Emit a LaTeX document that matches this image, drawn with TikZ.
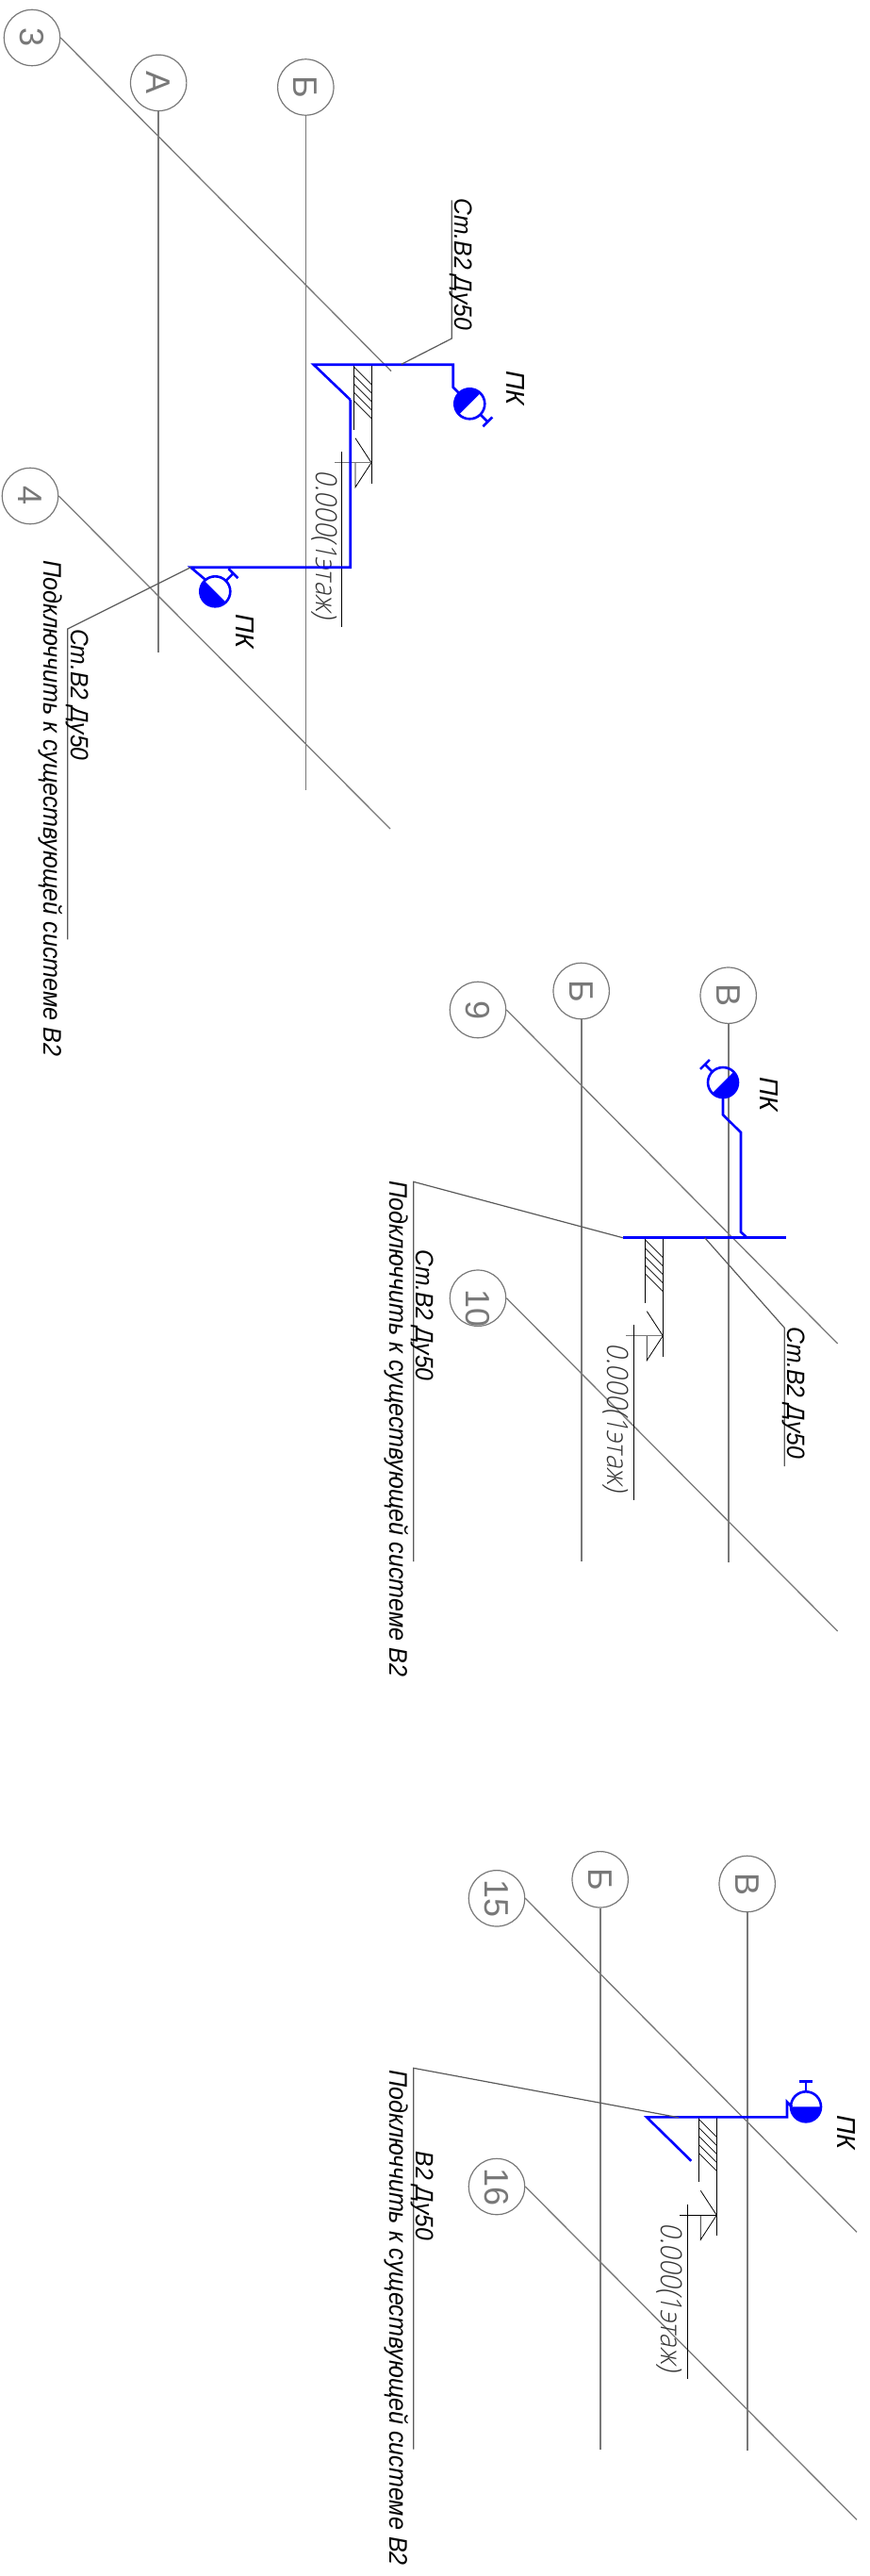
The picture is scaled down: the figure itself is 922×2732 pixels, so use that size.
\documentclass[tikz,border=0pt]{standalone}
\usepackage{fontspec}
\setmainfont{Liberation Sans}
\newfontfamily\notefont[FakeStretch=0.93]{Liberation Sans}
\newfontfamily\elevfont[FakeSlant=0.2,FakeStretch=0.88]{Open Sans Light}
\usetikzlibrary{positioning,calc}
\definecolor{pipeblue}{RGB}{0,0,255}
\definecolor{axisgray}{RGB}{120,120,120}
\definecolor{leadgray}{RGB}{90,90,90}
\tikzset{
    axisbubble/.style={circle, draw=axisgray, line width=1.2pt, text=axisgray, minimum size=59.4pt, inner sep=0pt, rotate=-90, font=\fontsize{36}{36}\selectfont},
    axisline/.style={draw=axisgray, line width=1.6pt},
    crossline/.style={draw=axisgray, line width=1.3pt},
    leadline/.style={draw=leadgray, line width=1.2pt},
    pipeline/.style={draw=pipeblue, line width=2.6pt, line join=miter},
    wallline/.style={draw=black, line width=1pt},
    notetext/.style={rotate=-90, anchor=base west, inner sep=0pt, font=\fontsize{26.5}{26.5}\notefont\itshape\selectfont},
    pktext/.style={rotate=-90, anchor=base west, inner sep=0pt, font=\fontsize{27.5}{27.5}\itshape\selectfont},
    context/.style={notetext, font=\fontsize{27}{27}\notefont\itshape\selectfont},
    elevtext/.style={rotate=-90, anchor=base west, inner sep=0pt, text=black!80, font=\fontsize{31}{31}\elevfont\selectfont}
}
\begin{document}
\begin{tikzpicture}[x=1pt,y=-1pt]
    \useasboundingbox (0,0) rectangle (922,2732);

    % Axis bubbles
    \node[axisbubble] (bub3) at (34,40) {3};
    \node[axisbubble] (bub4) at (32,526) {4};
    \node[axisbubble] (bubA) at (168.2,87.9) {А};
    \node[axisbubble] (bubB) at (324.3,92.5) {Б};
    \node[axisbubble] (bub9) at (507,1071) {9};
    \node[axisbubble] (bub10) at (507,1376.7) {\makebox[0pt]{\hspace*{22pt}10}};
    \node[axisbubble] (bubBb) at (616.7,1051) {Б};
    \node[axisbubble] (bubV) at (772.7,1055.7) {В};
    \node[axisbubble] (bub15) at (527,2013.3) {15};
    \node[axisbubble] (bub16) at (527,2319) {16};
    \node[axisbubble] (bubBc) at (636.7,1993.3) {Б};
    \node[axisbubble] (bubVc) at (792.7,1998) {В};

    % Axis lines
    \foreach \n/\x/\y in {bubA/168.2/692, bubB/324.3/838, bubBb/616.7/1656, bubV/772.7/1656.7, bubBc/636.7/2597.7, bubVc/792.7/2599}{
        \coordinate (\n end) at (\x,\y);
        \draw[axisline] (\n) -- (\n end);
    }

    % Slanted axes, rotated bubbles have north on the right
    \foreach \n/\x/\y in {bub3/415/393.6, bub4/414/879, bub9/888.7/1425, bub10/888.7/1730, bub15/909/2367.3, bub16/909/2672.3}{
        \coordinate (\n end) at (\x,\y);
        \draw[crossline] (\n.north) -- (\n end);
    }

    % Walls and level marks
    \foreach \wx/\wy/\tc/\n in {394/386.7/axisgray/1, 703.3/1312.7/axisgray/2, 760.3/2245.3/black/3}{
        \coordinate (wall\n) at (\wx,\wy);
        \coordinate (tip\n) at ($(wall\n)+(0,104)$);
        \draw[wallline] (wall\n) -- ++(0,126);
        \draw[wallline] ($(wall\n)+(-19,0)$) -- ++(0,69);
        \foreach \h in {2,11,20,29,38}
            \draw[wallline, line width=0.7pt] ($(wall\n)+(-19,\h)$) -- ++(19,19);
        \draw[wallline, line width=0.8pt] ($(tip\n)+(-17,-26)$) -- (tip\n) -- ($(tip\n)+(-17,26)$) -- ($(tip\n)+(-17,0)$);
        \draw[\tc, line width=1.1pt] ($(tip\n)+(-39,0)$) -- (tip\n);
        \draw[wallline, line width=0.8pt] ($(tip\n)+(-31.4,-11.4)$) -- ++(0,185.4);
        \node[elevtext] (elev\n) at ($(tip\n)+(-59,8)$) {0.000(1этаж)};
    }

    % Hose valves
    \foreach \px/\py/\ang/\n in {498.3/428.3/-135/1, 228.3/627.3/-45/2, 767/1148/45/3, 855/2234.3/0/4}{
        \begin{scope}[shift={(\px,\py)}, rotate=\ang]
            \coordinate (valve\n) at (0,0);
            \fill[pipeblue] (-16,0) arc[start angle=180, delta angle=180, radius=16pt] -- cycle;
            \draw[pipeline] (0,0) circle[radius=16pt];
            \draw[pipeline] (0,-16) -- (0,-27) (-7,-27) -- (7,-27);
        \end{scope}
    }

    % Pipes
    \draw[pipeline] (371.7,424) -- (332.7,386.7) -- (480.7,386.7) -- (480.7,410.7) -- (486.7,416.7);
    \draw[pipeline] (371.7,424) -- (371.7,601.7) -- (202.3,601.7) -- (217.3,614.3);
    \draw[pipeline] (660.7,1312.7) -- (834.3,1312.7);
    \draw[pipeline] (792.7,1312.7) -- (786,1306.7) -- (786,1201) -- (767,1182.3) -- (767,1164);
    \draw[pipeline] (733.3,2291.7) -- (686,2245.3) -- (835,2245.3) -- (835,2229.3) -- (840,2234.3);

    % Leaders
    \draw[leadline] (425.7,386.4) -- (479.3,359) -- (479.3,212.5);
    \draw[leadline] (202.3,601.7) -- (71.8,667) -- (71.8,996.3);
    \draw[leadline] (747.7,1312.7) -- (832.3,1408.3) -- (832.3,1555);
    \draw[leadline] (660.7,1312.7) -- (438.7,1253.3) -- (438.7,1656);
    \draw[leadline] (720,2245.7) -- (438.7,2193.3) -- (438.7,2597.7);

    % Labels
    \node[pktext] (pk1) at (537.5,392.9) {ПК};
    \node[pktext] (pk2) at (250,651.4) {ПК};
    \node[pktext] (pk3) at (806,1142.7) {ПК};
    \node[pktext] (pk4) at (888.3,2243.3) {ПК};
    \node[notetext] (st1) at (482,210.7) {Ст.В2 Ду50};
    \node[notetext] (st2) at (75,667) {Ст.В2 Ду50};
    \node[notetext] (st3) at (835,1407.3) {Ст.В2 Ду50};
    \node[notetext] (st4) at (441.7,1325) {Ст.В2 Ду50};
    \node[notetext] (st5) at (441.7,2281.7) {В2 Ду50};
    \node[context] (con1) at (46.4,594.3) {Подключчить к существующей системе В2};
    \node[context] (con2) at (413.3,1252.3) {Подключчить к существующей системе В2};
    \node[context] (con3) at (413.3,2195) {Подключчить к существующей системе В2};
\end{tikzpicture}
\end{document}
